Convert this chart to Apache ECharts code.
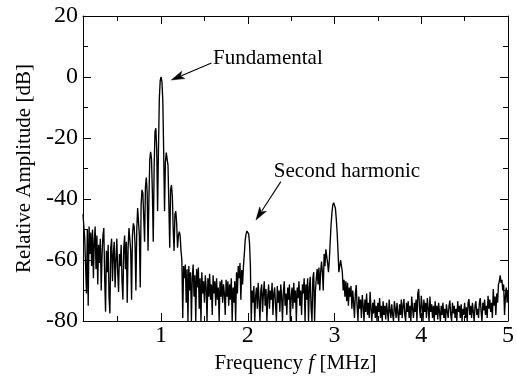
<!DOCTYPE html>
<html>
<head>
<meta charset="utf-8">
<script src="https://cdn.jsdelivr.net/npm/echarts@6/dist/echarts.min.js"></script>
<style>
html,body{margin:0;padding:0;background:#fff;}
#chart{width:517px;height:380px;}
</style>
</head>
<body>
<div id="chart"></div>
<script>
// Spectrum sampled every 0.01 MHz starting at 0.10 MHz
var freqStart = 0.10;
var freqStep = 0.01;
var amplitudeDb = [
 -45, -49, -53, -62, -71, -50, -75, -49, -58, -51,
 -62, -50, -66, -54, -49, -63, -52, -68, -55, -61,
 -53, -70, -58, -52, -49.5, -66, -77, -57, -64, -55,
 -72, -77.5, -56, -53, -67, -58, -54, -69, -60, -53,
 -64, -70.5, -58, -62, -55, -67, -73, -56, -52, -63,
 -54, -74, -56, -49.5, -50, -57, -73, -52, -48, -49,
 -55, -70, -50, -43, -42.5, -52, -69, -42, -37, -38,
 -46, -54, -36, -33, -38, -57, -40, -27, -24.5, -27,
 -38, -54, -30, -18, -16.8, -24, -44, -24, -7, -1.2,
 0, -1.5, -7.5, -24, -44, -28, -24.8, -24.5, -29, -42,
 -56, -37, -35.4, -39, -50, -57, -45, -44, -48, -56,
 -52, -50.7, -52, -57, -60, -79, -62, -66, -61.5, -74,
 -63, -80, -62, -70, -64, -80, -66, -61.5, -72, -65,
 -80, -63, -69, -62.5, -76, -66, -80, -64, -71, -67,
 -74, -65, -69, -80, -66, -72, -64.5, -73, -68, -78,
 -65, -71, -67, -75, -66, -73, -69, -80, -67, -72,
 -66.5, -74, -68, -71, -78, -66.5, -72, -67, -75, -68,
 -73, -66, -80, -69, -74, -67, -80, -64, -71, -62,
 -66, -61, -73, -63.3, -68, -62, -58, -53.5, -51.5, -50.5,
 -50.4, -51.5, -54.5, -62, -80, -70, -74, -68.5, -80, -72,
 -69, -76, -67.5, -73, -80, -70, -68, -77, -71, -67,
 -75, -69.5, -80, -72, -68, -76, -70, -73, -67.5, -78,
 -71, -69, -75, -80, -68.5, -74, -70, -77, -68, -72,
 -80, -70.5, -67, -75, -71, -78, -69, -73, -68, -80,
 -72, -69, -76, -67.5, -74, -70, -80, -69, -72.5, -67,
 -75, -70, -78, -68, -71, -66, -80, -68, -73, -66,
 -80, -69, -65.5, -76, -80, -66, -64, -80, -70, -66,
 -63, -68, -62.5, -70, -64, -60.5, -64, -70, -58, -62,
 -56.5, -56.2, -61, -64, -60, -54, -48.5, -44.5, -42, -41.2,
 -41.5, -43, -46.5, -51, -57, -64, -62, -60, -60.5, -64,
 -70, -66.5, -72, -67, -73.5, -67.5, -75, -69, -72, -68.5,
 -76, -70, -74, -79, -71, -68.2, -75, -80, -72, -76,
 -73, -79, -71.5, -75, -80, -73, -77, -71, -78, -74,
 -79, -70.4, -76, -80, -74, -77.5, -73, -79, -75, -80,
 -74, -77, -72.5, -79, -75, -80, -73.5, -78, -75, -79.5,
 -74, -77, -80, -73, -76.5, -79, -74.5, -78, -80, -73.5,
 -76, -79, -74, -77.5, -80, -74.5, -78, -73, -79, -75,
 -72.8, -78, -80, -74, -77, -73.5, -79, -75, -80, -72,
 -76, -79, -74, -77, -73, -80, -71, -69.5, -76, -79,
 -71.7, -75, -80, -73, -77, -74, -79, -72.5, -76, -80,
 -72, -77, -74.5, -79, -75, -80, -73.5, -78, -75, -79.5,
 -74, -77, -80, -75, -78, -74, -79, -76, -80, -74.5,
 -77, -79, -75, -73.3, -78, -80, -74, -77.5, -75, -79,
 -76, -80, -73.5, -77, -75, -79, -74.5, -80, -76, -78,
 -74, -79, -75.5, -80, -74, -72.8, -78, -75, -79, -74,
 -77, -80, -75, -73.5, -78, -76, -79, -74, -72.5, -77,
 -80, -74, -76.5, -73, -78, -75, -79, -71.7, -76, -73,
 -77, -74, -79, -69.5, -75, -72, -78, -71, -74, -68,
 -67, -65, -67.5, -66.5, -70, -68, -78, -72, -69, -74,
 -70
];

// axis ticks
var xMajorTicks = [1, 2, 3, 4, 5];
var xMinorTicks = [0.5, 1.5, 2.5, 3.5, 4.5];
var xMin = 0.1, xMax = 5;
var yMin = -80, yMax = 20, yStep = 20;

// annotations (data coordinates): label, label anchor, arrow tail, arrow tip
var annoLabels = ['Fundamental', 'Second harmonic'];
var annoTextPos = [[1.60, 6.2], [2.30, -31.1]];
var annoArrowTail = [[1.581, 4.6], [2.381, -34.3]];
var annoArrowTip = [[1.118, -0.98], [2.094, -46.9]];

var FONT = '"Liberation Serif", "Times New Roman", serif';

var seriesData = amplitudeDb.map(function (v, i) {
  return [+(freqStart + i * freqStep).toFixed(2), v];
});

var black = '#000';
function xAxisBase(pos, ticks, len, labels) {
  return {
    type: 'value', position: pos, min: xMin, max: xMax,
    axisLine: { show: true, onZero: false, lineStyle: { color: black, width: 1 } },
    axisTick: { show: true, inside: true, length: len, customValues: ticks, lineStyle: { color: black, width: 1 } },
    axisLabel: labels ? { show: true, customValues: ticks, color: black, fontFamily: FONT, fontSize: 24, margin: 3 } : { show: false },
    splitLine: { show: false }
  };
}
function yAxisBase(pos, labels) {
  return {
    type: 'value', position: pos, min: yMin, max: yMax, interval: yStep,
    axisLine: { show: true, onZero: false, lineStyle: { color: black, width: 1 } },
    axisTick: { show: true, inside: true, length: 8, lineStyle: { color: black, width: 1 } },
    minorTick: { show: true, splitNumber: 2, length: 5, lineStyle: { color: black, width: 1 } },
    axisLabel: labels ? { show: true, color: black, fontFamily: FONT, fontSize: 24, margin: 5 } : { show: false },
    splitLine: { show: false }, minorSplitLine: { show: false }
  };
}

var xMain = xAxisBase('bottom', xMajorTicks, 8, true);
xMain.name = '{a|Frequency }{i|f}{a| [MHz]}';
xMain.nameLocation = 'middle';
xMain.nameGap = 31;
xMain.nameTextStyle = {
  rich: {
    a: { fontFamily: FONT, fontSize: 21, color: black },
    i: { fontFamily: FONT, fontSize: 21, color: black, fontStyle: 'italic' }
  }
};
var xTopMajor = xAxisBase('top', xMajorTicks, 8, false);
var xBotMinor = xAxisBase('bottom', xMinorTicks, 5, false);
xBotMinor.axisLine.show = false;
var xTopMinor = xAxisBase('top', xMinorTicks, 5, false);
xTopMinor.axisLine.show = false;

var yLeft = yAxisBase('left', true);
yLeft.name = 'Relative Amplitude [dB]';
yLeft.nameLocation = 'middle';
yLeft.nameGap = 46;
yLeft.nameTextStyle = { fontFamily: FONT, fontSize: 21, color: black };
var yRight = yAxisBase('right', false);

var chart = echarts.init(document.getElementById('chart'), null, { renderer: 'canvas' });
chart.setOption({
  animation: false,
  backgroundColor: '#fff',
  grid: { left: 83, right: 8, top: 16, bottom: 59, containLabel: false },
  xAxis: [xMain, xTopMajor, xBotMinor, xTopMinor],
  yAxis: [yLeft, yRight],
  series: [{
    type: 'line',
    xAxisIndex: 0, yAxisIndex: 0,
    data: seriesData,
    showSymbol: false,
    symbol: 'none',
    sampling: null,
    lineStyle: { color: black, width: 1.35 },
    silent: true,
    markPoint: {
      silent: true,
      animation: false,
      symbol: 'circle',
      symbolSize: 0,
      label: {
        show: true, position: 'right', distance: 0,
        color: black, fontFamily: FONT, fontSize: 21,
        formatter: function (p) { return p.name; }
      },
      data: annoLabels.map(function (name, i) {
        return { name: name, coord: annoTextPos[i] };
      })
    }
  }]
});

// arrows, placed through the axes' own scales
var HEAD_LEN = 13, HEAD_HALF = 4;
var graphics = [];
annoArrowTail.forEach(function (tail, i) {
  var p0 = chart.convertToPixel({ xAxisIndex: 0, yAxisIndex: 0 }, tail);
  var p1 = chart.convertToPixel({ xAxisIndex: 0, yAxisIndex: 0 }, annoArrowTip[i]);
  var dx = p1[0] - p0[0], dy = p1[1] - p0[1];
  var L = Math.sqrt(dx * dx + dy * dy);
  var ux = dx / L, uy = dy / L;
  var bx = p1[0] - ux * HEAD_LEN, by = p1[1] - uy * HEAD_LEN;
  graphics.push({
    type: 'line', silent: true, z: 100,
    shape: { x1: p0[0], y1: p0[1], x2: bx + ux * 2, y2: by + uy * 2 },
    style: { stroke: black, lineWidth: 1.1 }
  });
  graphics.push({
    type: 'polygon', silent: true, z: 100,
    shape: { points: [
      [p1[0], p1[1]],
      [bx - uy * HEAD_HALF, by + ux * HEAD_HALF],
      [bx + ux * 3, by + uy * 3],
      [bx + uy * HEAD_HALF, by - ux * HEAD_HALF]
    ] },
    style: { fill: black, stroke: black, lineWidth: 0.5 }
  });
});
chart.setOption({ graphic: graphics });
</script>
</body>
</html>
